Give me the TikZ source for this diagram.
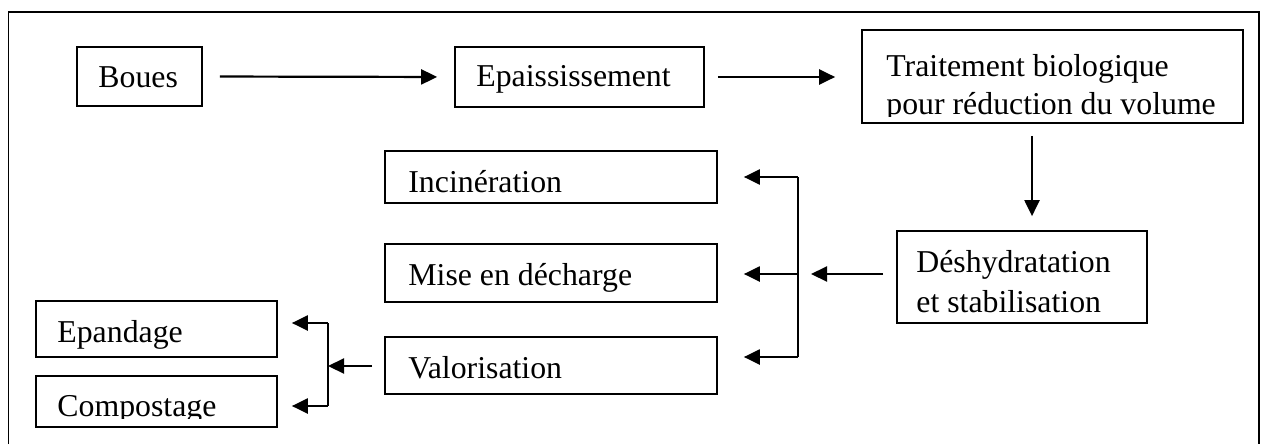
\documentclass[tikz,border=0pt]{standalone}
\usepackage{fontspec}
\setmainfont{Liberation Serif}
\usetikzlibrary{arrows.meta,fit}
\begin{document}
\begin{tikzpicture}[x=0.5pt,y=-0.5pt,
  box/.style={draw, line width=0.85pt, inner sep=0pt},
  txt/.style={anchor=base west, inner sep=0pt, font=\fontsize{15.9pt}{19pt}\selectfont},
  arr/.style={line width=1.1pt, -{Triangle[length=8pt,width=7.5pt]}},
  ln/.style={line width=1.1pt}]
\useasboundingbox (0,0) rectangle (1261,444);
\fill[white] (0,0) rectangle (1261,444);
\draw[line width=0.9pt] (8.5,444) -- (8.5,12) -- (1259,12) -- (1259,444);

% boxes
\node[box, fit={(77,47) (202,106)}] (boues) {};
\node[box, fit={(455,47) (704,107)}] (epai) {};
\node[box, fit={(862,30) (1243,123)}] (trait) {};
\node[box, fit={(897,231) (1147,323)}] (desh) {};
\node[box, fit={(385,151) (717,203)}] (inci) {};
\node[box, fit={(385,244) (717,302)}] (mise) {};
\node[box, fit={(385,337) (717,394)}] (valo) {};
\node[box, fit={(36,301) (277,357)}] (epan) {};
\node[box, fit={(36,376) (277,427)}] (comp) {};

% texts
\node[txt] (tboues) at (98,88) {Boues};
\node[txt] (tepai) at (476,87) {Epaississement};
\begin{scope}
\clip (862,30) rectangle (1243,116);
\node[txt] (ttrait1) at (886,76) {Traitement biologique};
\node[txt] (ttrait2) at (886,114) {pour réduction du volume};
\end{scope}
\begin{scope}
\clip (897,231) rectangle (1147,314);
\node[txt] (tdesh1) at (916,272) {Déshydratation};
\node[txt] (tdesh2) at (916,312) {et stabilisation};
\end{scope}
\node[txt] (tinci) at (408,192) {Incinération};
\node[txt] (tmise) at (408,285) {Mise en décharge};
\node[txt] (tvalo) at (408,378) {Valorisation};
\node[txt] (tepan) at (57,342) {Epandage};
\begin{scope}
\clip (36,376) rectangle (277,418);
\node[txt] (tcomp) at (57,416) {Compostage};
\end{scope}

% coordinates
\coordinate (dx) at (1032,0);
\coordinate (b1) at (798,177);
\coordinate (bm) at (798,274);
\coordinate (b2) at (798,357);
\coordinate (bin) at (811,274);
\coordinate (c1) at (328,323);
\coordinate (cm) at (328,366);
\coordinate (c2) at (328,406);

% connectors
\draw[arr, shorten <=8.5pt, shorten >=8.5pt] (boues.east) -- (epai.west);
\draw[arr, shorten <=6.5pt, shorten >=13pt] (epai.east) -- (epai.east -| trait.west);
\draw[arr, shorten <=6pt, shorten >=7pt] (trait.south -| dx) -- (desh.north -| dx);
\draw[arr, shorten <=6.5pt] (desh.west |- bm) -- (bin);
\draw[ln] (b1) -- (b2);
\draw[arr, shorten >=13pt] (b1) -- (inci.east |- b1);
\draw[arr, shorten >=13pt] (bm) -- (mise.east |- bm);
\draw[arr, shorten >=13pt] (b2) -- (valo.east |- b2);
\draw[arr, shorten <=6pt] (valo.west |- cm) -- (cm);
\draw[ln] (c1) -- (c2);
\draw[arr, shorten >=7pt] (c1) -- (epan.east |- c1);
\draw[arr, shorten >=7pt] (c2) -- (comp.east |- c2);
\end{tikzpicture}
\end{document}
